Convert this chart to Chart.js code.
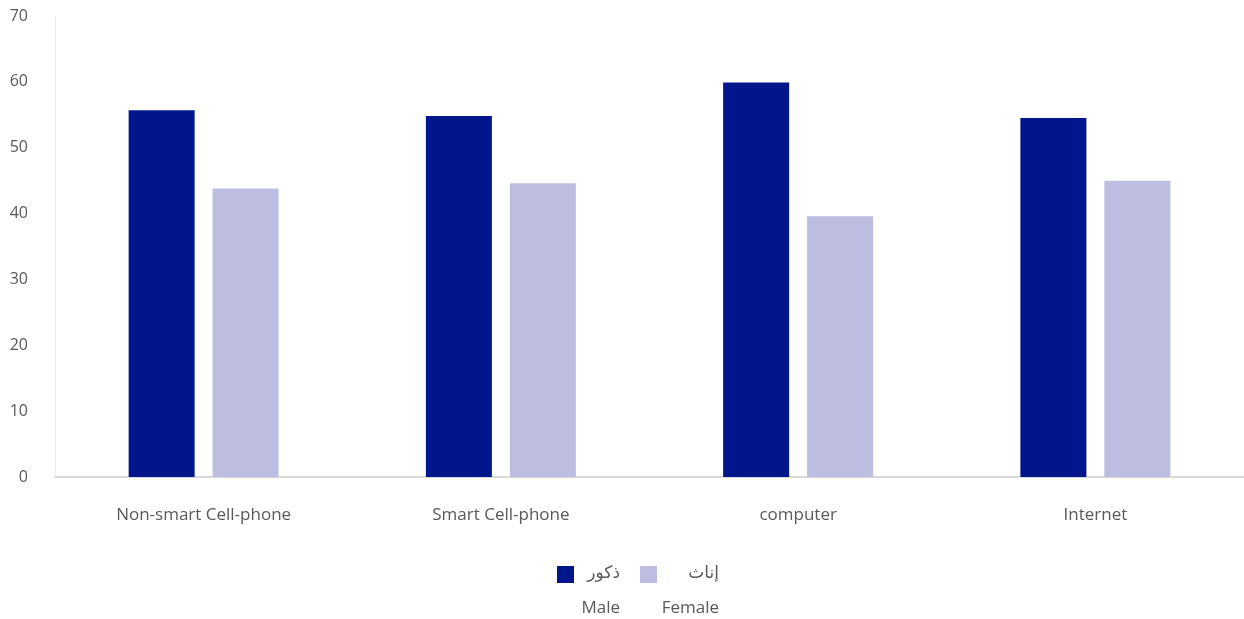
<!DOCTYPE html>
<html>
<head>
<meta charset="utf-8">
<script src="https://cdn.jsdelivr.net/npm/chart.js@4.4.0/dist/chart.umd.min.js"></script>
<style>
  html, body { margin:0; padding:0; background:#fff; }
  #wrap { position:relative; width:1244px; height:619px; overflow:hidden; }
  canvas { position:absolute; left:0; top:0; }
  .lg { position:absolute; left:0; top:0; width:1244px; height:619px; font-family:"Open Sans","DejaVu Sans",sans-serif; font-size:17px; color:#595959; }
  .box { position:absolute; width:17px; height:17px; }
  .txt { position:absolute; text-align:right; white-space:nowrap; line-height:20px; }
</style>
</head>
<body>
<div id="wrap">
  <canvas id="c" width="1244" height="619"></canvas>
  <div class="lg">
    <div class="box" id="b0" style="left:557px; top:566px;"></div>
    <div class="txt" style="right:624px; top:562px; direction:rtl;">ذكور</div>
    <div class="txt" style="right:624px; top:597px;">Male</div>
    <div class="box" id="b1" style="left:640px; top:566px;"></div>
    <div class="txt" style="right:525px; top:562px; direction:rtl;">إناث</div>
    <div class="txt" style="right:525px; top:597px;">Female</div>
  </div>
</div>
<script>
const categories = ["Non-smart Cell-phone", "Smart Cell-phone", "computer", "Internet"];
const maleValues = [55.7, 54.8, 59.9, 54.5];
const femaleValues = [43.8, 44.6, 39.6, 45.0];
const seriesNames = ["Male", "Female"];
const yTicks = [0, 10, 20, 30, 40, 50, 60, 70];

const maleColor = "#00168A";
const femaleColor = "#BCBDE0";
document.getElementById('b0').style.background = maleColor;
document.getElementById('b1').style.background = femaleColor;

const fontFamily = '"Open Sans","DejaVu Sans",sans-serif';

new Chart(document.getElementById('c'), {
  type: 'bar',
  data: {
    labels: categories,
    datasets: [
      { label: seriesNames[0], data: maleValues, backgroundColor: maleColor, borderWidth: 0 },
      { label: seriesNames[1], data: femaleValues, backgroundColor: femaleColor, borderWidth: 0 }
    ]
  },
  options: {
    responsive: false,
    animation: false,
    devicePixelRatio: 1,
    categoryPercentage: 0.565,
    barPercentage: 0.786,
    layout: { padding: { top: 16, right: -2, bottom: 82, left: 0 } },
    plugins: { legend: { display: false }, tooltip: { enabled: false } },
    scales: {
      x: {
        grid: { display: false, drawTicks: false },
        border: { display: true, color: '#d9d9d9', width: 2 },
        ticks: { color: '#595959', font: { family: fontFamily, size: 17 }, padding: 28, maxRotation: 0 },
        afterFit: (s) => { s.height = 60; s.paddingLeft = 0; s.paddingRight = 0; }
      },
      y: {
        min: 0, max: 70,
        afterBuildTicks: (s) => { s.ticks = yTicks.map(v => ({ value: v })); },
        grid: { display: false, drawTicks: false },
        border: { display: true, color: '#ebebeb', width: 1 },
        ticks: { color: '#595959', font: { family: fontFamily, size: 16 }, padding: 27 },
        afterFit: (s) => { s.width = 55; s.paddingTop = 0; s.paddingBottom = 0; }
      }
    }
  }
});
</script>
</body>
</html>
